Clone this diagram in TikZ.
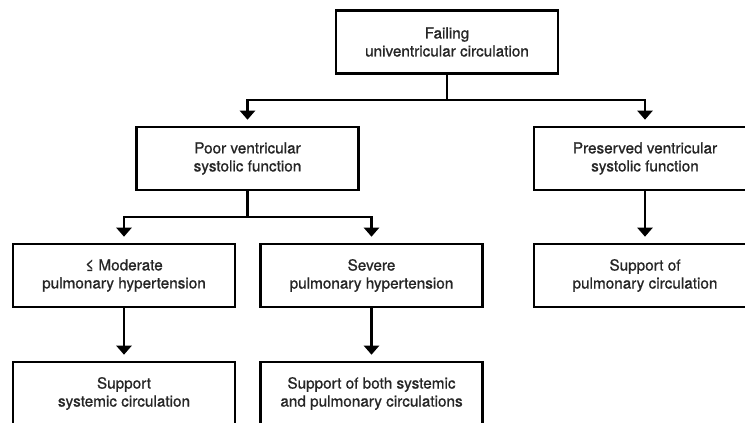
\documentclass[tikz,border=0pt]{standalone}
\usepackage{fontspec}
\setmainfont{TeX Gyre Heros}[FakeBold=0.9]
\usetikzlibrary{arrows.meta}
\begin{document}
\begin{tikzpicture}[x=1pt,y=-1pt,
  box/.style={draw=black,line width=2.6pt,rectangle,minimum width=222pt,minimum height=63pt,
    align=center,inner sep=0pt,font=\fontsize{15.3}{18}\selectfont,text=black!85},
  conn/.style={draw=black,line width=2.6pt},
  arr/.style={conn,-{Triangle[width=15pt,length=9pt]},shorten >=6pt}]
\useasboundingbox (0,0) rectangle (745,423);
\clip (0,0) rectangle (745,423);
\fill[white] (0,0) rectangle (745,423);
\node[box] (top) at (447,42) {Failing\\univentricular circulation};
\node[box] (poor) at (247.5,158.5) {Poor ventricular\\systolic function};
\node[box] (pres) at (645,158.5) {Preserved ventricular\\systolic function};
\node[box] (mod) at (124,275.5) {≤ Moderate\\pulmonary hypertension};
\node[box] (sev) at (371.5,275.5) {Severe\\pulmonary hypertension};
\node[box] (pulm) at (645,275.5) {Support of\\pulmonary circulation};
\node[box] (sys) at (124,393.5) {Support\\systemic circulation};
\node[box] (both) at (371.5,393.5) {Support of both systemic\\and pulmonary circulations};
\coordinate (j1) at (447,100);
\coordinate (j2) at (247.5,217);
\draw[conn] (top) -- (j1);
\draw[arr] (j1) -| (poor);
\draw[arr] (j1) -| (pres);
\draw[conn] (poor) -- (j2);
\draw[arr] (j2) -| (mod);
\draw[arr] (j2) -| (sev);
\draw[arr] (pres) -- (pulm);
\draw[arr] (mod) -- (sys);
\draw[arr] (sev) -- (both);
\end{tikzpicture}
\end{document}
